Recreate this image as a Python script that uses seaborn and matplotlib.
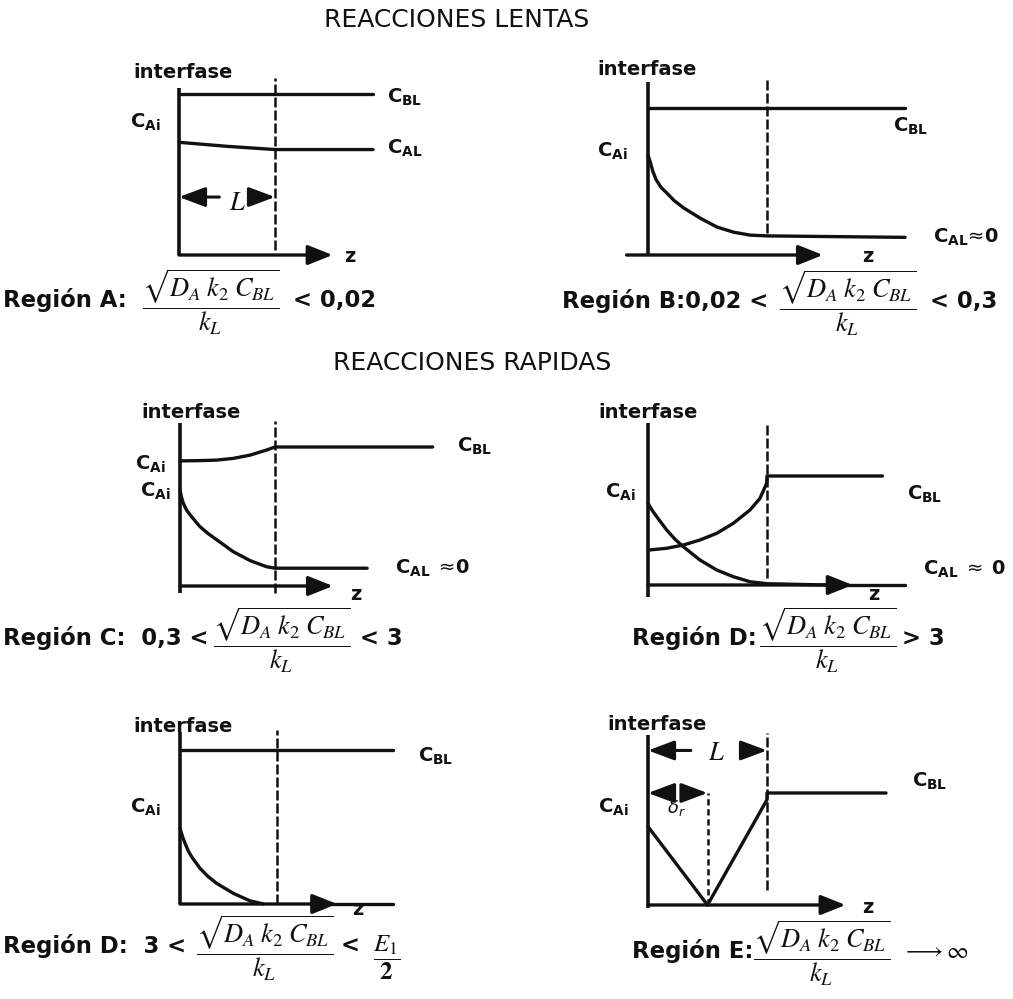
import matplotlib
matplotlib.use("Agg")
import matplotlib.pyplot as plt
import seaborn as sns

sns.set_theme(style="white")
plt.rcParams["font.family"] = ["DejaVu Sans"]
plt.rcParams["mathtext.fontset"] = "dejavusans"

INK = "#111111"
W, H = 1013, 999

# ---------------- data ----------------
titles = ["REACCIONES LENTAS", "REACCIONES RAPIDAS"]

# Región A  (z in units of the film thickness L, C relative to C_BL)
a_cbl_z = [0.0, 2.02]
a_cbl_c = [1.0, 1.0]
a_cal_z = [0.0, 0.5, 1.0, 2.02]
a_cal_c = [0.70, 0.675, 0.655, 0.655]

# Región B
b_cbl_z = [0.0, 2.16]
b_cbl_c = [1.0, 1.0]
b_cal_z = [0.0, 0.02, 0.04, 0.07, 0.11, 0.16, 0.22, 0.30, 0.44, 0.58, 0.72, 0.86, 1.0, 2.16]
b_cal_c = [0.68, 0.63, 0.57, 0.51, 0.46, 0.42, 0.37, 0.32, 0.25, 0.19, 0.155, 0.135, 0.13, 0.12]

# Región C
c_cbl_z = [0.0, 0.21, 0.39, 0.56, 0.74, 0.91, 1.0, 2.66]
c_cbl_c = [0.90, 0.902, 0.906, 0.918, 0.942, 0.978, 1.0, 1.0]
c_cal_z = [0.0, 0.015, 0.035, 0.07, 0.12, 0.21, 0.30, 0.39, 0.56, 0.74, 0.91, 1.0, 1.97]
c_cal_c = [0.69, 0.64, 0.595, 0.545, 0.50, 0.427, 0.375, 0.331, 0.247, 0.182, 0.139, 0.128, 0.128]

# Región D (> 3)
d_cbl_z = [0.0, 0.157, 0.297, 0.437, 0.577, 0.717, 0.857, 0.941, 0.997, 1.0, 1.97]
d_cbl_c = [0.32, 0.337, 0.367, 0.413, 0.474, 0.566, 0.688, 0.795, 0.933, 1.0, 1.0]
d_cal_z = [0.0, 0.035, 0.073, 0.157, 0.227, 0.297, 0.437, 0.577, 0.717, 0.857, 1.0, 1.5]
d_cal_c = [0.75, 0.685, 0.627, 0.505, 0.42, 0.351, 0.229, 0.138, 0.076, 0.03, 0.012, 0.0]

# Región D (3 < ... < E1/2)
d2_cbl_z = [0.0, 2.2]
d2_cbl_c = [1.0, 1.0]
d2_cal_z = [0.0, 0.025, 0.052, 0.085, 0.12, 0.206, 0.29, 0.378, 0.55, 0.72, 0.86]
d2_cal_c = [0.49, 0.44, 0.394, 0.345, 0.307, 0.232, 0.178, 0.134, 0.069, 0.021, 0.0]

# Región E (instantaneous reaction, reaction plane at delta_r)
e_delta_r = 0.5
e_ca_z = [0.0, 0.5]
e_ca_c = [0.70, 0.0]
e_cb_z = [0.5, 1.0, 1.0, 2.0]
e_cb_c = [0.0, 0.94, 1.0, 1.0]

FRAC = r"$\dfrac{\sqrt{D_{A}\;k_{2}\;C_{BL}}}{k_{L}}$"

# ---------------- drawing helpers ----------------
fig = plt.figure(figsize=(W / 100, H / 100), dpi=100)
fig.patch.set_facecolor("white")


def px_text(x, y, s, size=14, weight="bold", ha="left", va="baseline", **kw):
    fig.text(x / W, 1 - y / H, s, fontsize=size, fontweight=weight,
             ha=ha, va=va, color=INK, **kw)


def clabel(x, y, sub, extra=""):
    px_text(x, y, r"$\mathbf{C_{%s}}%s$" % (sub, extra), size=14,
            math_fontfamily="dejavusans")


def panel(ox, oy, ux, uy, zlim=(-0.6, 3.0), clim=(-0.25, 1.7)):
    x0 = ox + zlim[0] * ux
    x1 = ox + zlim[1] * ux
    yb = oy - clim[0] * uy
    yt = oy - clim[1] * uy
    ax = fig.add_axes([x0 / W, 1 - yb / H, (x1 - x0) / W, (yb - yt) / H])
    ax.set_xlim(*zlim)
    ax.set_ylim(*clim)
    ax.axis("off")
    ax.patch.set_alpha(0)
    return ax


def arrow(ax, start, tip, lw=2.4, hl=0.75, hw=0.3):
    ax.annotate("", xy=tip, xytext=start, annotation_clip=False,
                arrowprops=dict(arrowstyle=f"-|>,head_length={hl},head_width={hw}",
                                mutation_scale=20, lw=lw, color=INK,
                                shrinkA=0, shrinkB=0))


def frame(ax, c_lo, c_hi, z_from, z_tip, dash_lo, dash_hi, z_end=None):
    ax.plot([0, 0], [c_lo, c_hi], color=INK, lw=2.6, solid_capstyle="butt",
            clip_on=False)
    arrow(ax, (z_from, 0), (z_tip, 0))
    if z_end is not None:
        ax.plot([z_tip - 0.05, z_end], [0, 0], color=INK, lw=2.4, clip_on=False)
    ax.plot([1, 1], [dash_lo, dash_hi], color=INK, lw=1.8,
            linestyle=(0, (4, 1.2)), clip_on=False)


def profile(ax, z, c):
    sns.lineplot(x=z, y=c, ax=ax, color=INK, linewidth=2.4, estimator=None,
                 sort=False, legend=False)
    for line in ax.lines:
        line.set_clip_on(False)
        line.set_solid_joinstyle("round")


def region(x, y, lead, bar_x, tail, tail_x, size=16.4):
    px_text(x, y, lead, size=size)
    fig.text(bar_x / W, 1 - (y + 7) / H, FRAC, fontsize=19, ha="center",
             va="baseline", color=INK, math_fontfamily="stix")
    if tail:
        px_text(tail_x, y, tail, size=size)


# ---------------- titles ----------------
px_text(457, 27, titles[0], size=18, weight="normal", ha="center")
px_text(472, 370, titles[1], size=18, weight="normal", ha="center")

# ---------------- Región A ----------------
ax = panel(179, 255, 96, 161)
frame(ax, 0, 1.04, 0, 1.6, 0.03, 1.1)
profile(ax, a_cbl_z, a_cbl_c)
profile(ax, a_cal_z, a_cal_c)
arrow(ax, (0.42, 0.36), (0.0, 0.36), lw=2.2, hl=0.8, hw=0.3)
arrow(ax, (0.74, 0.36), (1.0, 0.36), lw=2.2, hl=0.8, hw=0.3)
px_text(229, 210, r"$L$", size=19, math_fontfamily="stix")
px_text(133, 78, "interfase")
clabel(130, 128, "Ai")
clabel(387, 103, "BL")
clabel(387, 154, "AL")
px_text(344, 262, "z")
region(3, 307, "Región A:", 211, "< 0,02", 293)

# ---------------- Región B ----------------
ax = panel(648, 255, 119, 147)
frame(ax, -0.01, 1.18, -0.18, 1.47, 0.15, 1.19)
profile(ax, b_cbl_z, b_cbl_c)
profile(ax, b_cal_z, b_cal_c)
px_text(597, 75, "interfase")
clabel(597, 157, "Ai")
clabel(893, 132, "BL")
clabel(933, 243, "AL", r"\!\approx\!\mathbf{0}")
px_text(862, 262, "z")
region(562, 308, "Región B:0,02 <", 848, "< 0,3", 930)

# ---------------- Región C ----------------
ax = panel(180, 586, 95, 139)
frame(ax, -0.05, 1.17, 0, 1.61, -0.05, 1.19)
profile(ax, c_cbl_z, c_cbl_c)
profile(ax, c_cal_z, c_cal_c)
px_text(141, 418, "interfase")
clabel(135, 470, "Ai")
clabel(140, 497, "Ai")
clabel(457, 452, "BL")
clabel(395, 574, "AL", r"\;\approx\!\mathbf{0}")
px_text(350, 600, "z")
region(3, 645, "Región C:  0,3 <", 282, "< 3", 360)

# ---------------- Región D (> 3) ----------------
ax = panel(648, 585, 119, 109)
frame(ax, -0.11, 1.49, 0, 1.72, 0.06, 1.49, z_end=2.16)
profile(ax, d_cbl_z, d_cbl_c)
profile(ax, d_cal_z, d_cal_c)
px_text(598, 418, "interfase")
clabel(605, 498, "Ai")
clabel(907, 500, "BL")
clabel(923, 575, "AL", r"\;\approx\;\mathbf{0}")
px_text(868, 600, "z")
region(632, 645, "Región D:", 828, "> 3", 902)

# ---------------- Región D (3 < ... < E1/2) ----------------
ax = panel(180, 904, 97, 154)
frame(ax, 0, 1.12, 0, 1.62, 0, 1.13, z_end=2.2)
profile(ax, d2_cbl_z, d2_cbl_c)
profile(ax, d2_cal_z, d2_cal_c)
px_text(133, 732, "interfase")
clabel(130, 813, "Ai")
clabel(418, 762, "BL")
px_text(352, 915, "z")
region(3, 953, "Región D:  3 <", 265, "<", 341)
fig.text(387 / W, 1 - 965 / H, r"$\dfrac{E_{1}}{\mathbf{2}}$", fontsize=18,
         ha="center", va="baseline", color=INK, math_fontfamily="stix")

# ---------------- Región E ----------------
ax = panel(648, 905, 119, 112)
frame(ax, -0.03, 1.52, 0, 1.66, 0.13, 1.54)
ax.plot([e_delta_r, e_delta_r], [0, 1.0], color=INK, lw=1.8,
        linestyle=(0, (2.5, 1.5)), clip_on=False)
profile(ax, e_ca_z, e_ca_c)
profile(ax, e_cb_z, e_cb_c)
arrow(ax, (0.36, 1.38), (0.0, 1.38), lw=2.2, hl=0.8, hw=0.3)
arrow(ax, (0.83, 1.38), (1.0, 1.38), lw=2.2, hl=0.8, hw=0.3)
arrow(ax, (0.2, 1.0), (0.0, 1.0), lw=2.2, hl=0.8, hw=0.3)
arrow(ax, (0.31, 1.0), (e_delta_r, 1.0), lw=2.2, hl=0.8, hw=0.3)
px_text(708, 760, r"$L$", size=19, math_fontfamily="stix")
px_text(667, 813, r"$\delta_{r}$", size=13, math_fontfamily="dejavusans")
px_text(607, 730, "interfase")
clabel(598, 813, "Ai")
clabel(912, 787, "BL")
px_text(862, 913, "z")
region(632, 958, "Región E:", 822, "", 0)
fig.text(935 / W, 1 - 958 / H, r"$\longrightarrow\infty$", fontsize=17,
         ha="center", va="baseline", color=INK, math_fontfamily="stix")

fig.savefig("out.png", dpi=100, facecolor="white")
